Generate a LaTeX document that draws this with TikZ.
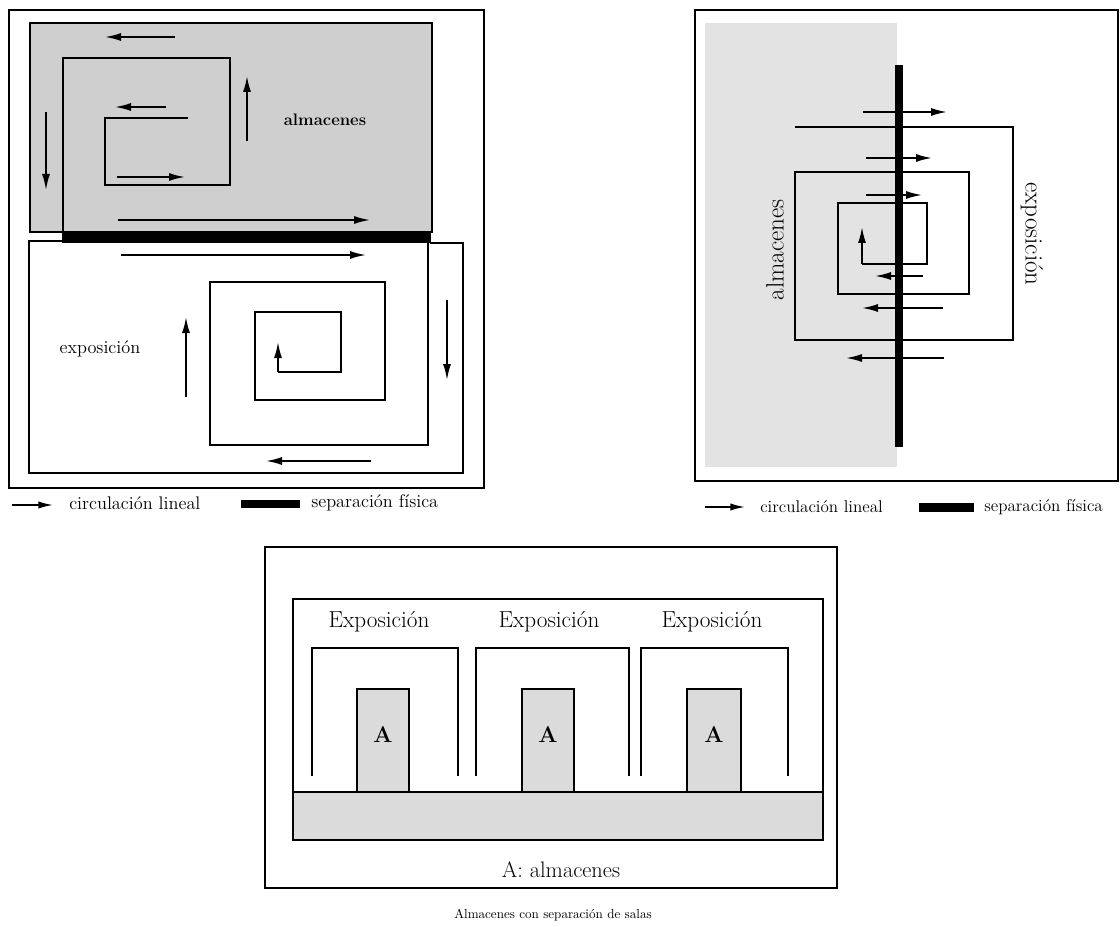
\documentclass[tikz,border=0pt]{standalone}
\usepackage{fontspec}
\usetikzlibrary{arrows.meta}
\tikzset{
  wall/.style={line width=1.3pt, line join=miter},
  flow/.style={line width=1.3pt, -{Latex[length=12pt,width=6pt]}},
  sep/.style={fill=black, draw=none},
  store/.style={fill=gray!38, draw=black, line width=1.3pt},
  roomstore/.style={fill=gray!28, draw=black, line width=1.3pt},
  lbl/.style={inner sep=0pt, font=\fontsize{13.7}{16}\selectfont},
  big/.style={inner sep=0pt, font=\fontsize{18.8}{22}\selectfont},
}
\begin{document}
\begin{tikzpicture}[x=0.75pt,y=-0.75pt]
\useasboundingbox (0,0) rectangle (1120,927);

% ===================== top-left plan =====================
\draw[wall] (9,10) rectangle (484,488);
\draw[store] (30,23) rectangle (432,232);
\fill[white] (30,233) rectangle (63,241);
% spiral in storage
\draw[wall] (188,118) -- (105,118) -- (105,185) -- (230,185) -- (230,58) -- (63,58) -- (63,243);
\fill[sep] (63,233) rectangle (431,243);
% exhibition walls
\draw[wall] (63,241) -- (29,241) -- (29,473) -- (463,473) -- (463,243) -- (430,243);
\draw[wall] (428,243) -- (428,445) -- (210,445) -- (210,282) -- (385,282) -- (385,400)
  -- (255,400) -- (255,312) -- (341,312) -- (341,372) -- (278,372);
\coordinate (tlS) at (278,372);
\coordinate (tlE) at (278,342);
\draw[flow] (tlS) -- (tlE);
% storage arrows
\coordinate (a1s) at (175,37);  \coordinate (a1e) at (105,37);
\coordinate (a2s) at (46,112);  \coordinate (a2e) at (46,190);
\coordinate (a3s) at (166,107); \coordinate (a3e) at (115,107);
\coordinate (a4s) at (117,177); \coordinate (a4e) at (185,177);
\coordinate (a5s) at (247,141); \coordinate (a5e) at (247,76);
\coordinate (a6s) at (118,220); \coordinate (a6e) at (370,220);
\foreach \i in {1,...,6} \draw[flow] (a\i s) -- (a\i e);
% exhibition arrows
\coordinate (e1s) at (121,255); \coordinate (e1e) at (366,255);
\coordinate (e2s) at (186,397); \coordinate (e2e) at (186,317);
\coordinate (e3s) at (447,300); \coordinate (e3e) at (447,380);
\coordinate (e4s) at (371,461); \coordinate (e4e) at (266,461);
\foreach \i in {1,...,4} \draw[flow] (e\i s) -- (e\i e);
\node[lbl, font=\fontsize{12.5}{15}\selectfont\bfseries] (tlalm) at (325,120) {almacenes};
\node[lbl] (tlexp) at (100,349) {exposición};
% legend
\coordinate (lg1s) at (12,505); \coordinate (lg1e) at (53,505);
\draw[line width=1.2pt, -{Latex[length=11pt,width=5.5pt]}] (lg1s) -- (lg1e);
\node[lbl, anchor=west] (lg1t) at (69,503) {circulación lineal};
\fill[sep] (241,500) rectangle (300,508);
\node[lbl, anchor=west] (lg2t) at (311,503) {separación física};

% ===================== top-right plan =====================
\draw[wall] (695,10) rectangle (1118,481);
\fill[gray!22] (705,23) rectangle (897,467);
\fill[sep] (895,65) rectangle (903,447);
\draw[wall] (795,127) -- (1013,127) -- (1013,340) -- (795,340) -- (795,172) -- (969,172)
  -- (969,294) -- (838,294) -- (838,203) -- (927,203) -- (927,264) -- (862,264);
\coordinate (trS) at (862,264);
\coordinate (trE) at (862,227);
\draw[flow] (trS) -- (trE);
\coordinate (r1s) at (863,112); \coordinate (r1e) at (947,112);
\coordinate (r2s) at (866,158); \coordinate (r2e) at (932,158);
\coordinate (r3s) at (866,195); \coordinate (r3e) at (922,195);
\coordinate (r4s) at (923,276); \coordinate (r4e) at (875,276);
\coordinate (r5s) at (943,308); \coordinate (r5e) at (862,308);
\coordinate (r6s) at (944,358); \coordinate (r6e) at (846,358);
\foreach \i in {1,...,6} \draw[flow] (r\i s) -- (r\i e);
\node[big, rotate=90] (tralm) at (775,250) {almacenes};
\node[big, rotate=-90] (trexp) at (1032,234) {exposición};
% legend
\coordinate (lg3s) at (705,507); \coordinate (lg3e) at (745,507);
\draw[line width=1.2pt, -{Latex[length=11pt,width=5.5pt]}] (lg3s) -- (lg3e);
\node[lbl, anchor=west, font=\fontsize{12.8}{15}\selectfont] (lg3t) at (760,507) {circulación lineal};
\fill[sep] (919,503) rectangle (974,512);
\node[lbl, anchor=west, font=\fontsize{12.8}{15}\selectfont] (lg4t) at (984,507) {separación física};

% ===================== bottom plan =====================
\draw[wall] (265,547) rectangle (837,888);
\draw[wall] (293,599) rectangle (823,840);
\draw[roomstore] (293,792) rectangle (823,840);
\foreach \l/\r [count=\k] in {312/458, 476/629, 641/788}
  \draw[wall] (\l,776) -- (\l,648) -- (\r,648) -- (\r,776);
\foreach \l/\r/\c [count=\k] in {357/409/383, 522/574/548, 687/741/714} {
  \draw[roomstore] (\l,689) rectangle (\r,792);
  \node[inner sep=0pt, font=\fontsize{17}{20}\selectfont\bfseries] (A\k) at (\c,735) {A};
}
\foreach \c [count=\k] in {379,549,712}
  \node[inner sep=0pt, font=\fontsize{17.4}{20}\selectfont] (X\k) at (\c,622) {Exposición};
\node[inner sep=0pt, font=\fontsize{16.8}{20}\selectfont] (leyA) at (561,870) {A: almacenes};
\node[inner sep=0pt, font=\fontsize{9.8}{12}\selectfont] (cap) at (553,915) {Almacenes con separación de salas};
\end{tikzpicture}
\end{document}
